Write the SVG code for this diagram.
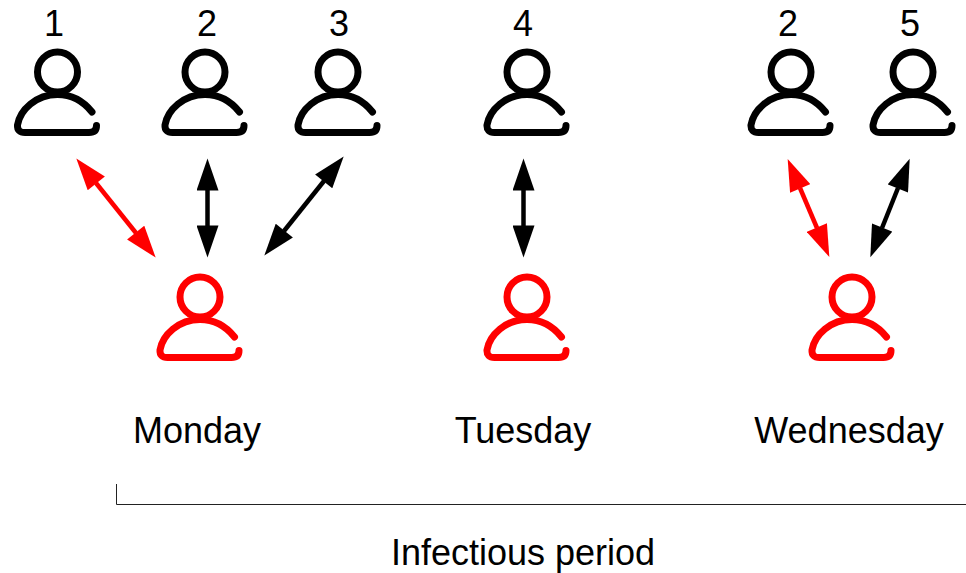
<svg xmlns="http://www.w3.org/2000/svg" width="966" height="573" viewBox="0 0 966 573">
<style>
text{font-family:"Liberation Sans",Arial,sans-serif;font-size:36px;fill:#000;text-anchor:middle}
.k{stroke:#000;fill:none}
.r{stroke:#f00;fill:none}
.p{stroke-width:7;stroke-linecap:round;stroke-linejoin:round}
.a{stroke-width:4.5;fill:none}
</style>
<defs>
<marker id="hk" markerUnits="userSpaceOnUse" markerWidth="34" markerHeight="22" viewBox="0 0 32 22" refX="0.5" refY="11" orient="auto-start-reverse"><path d="M0,0L32,11L0,22Z" fill="#000"/></marker>
<marker id="hr" markerUnits="userSpaceOnUse" markerWidth="34" markerHeight="22" viewBox="0 0 32 22" refX="0.5" refY="11" orient="auto-start-reverse"><path d="M0,0L32,11L0,22Z" fill="#f00"/></marker>
<g id="person" class="p">
<circle cx="57.5" cy="72" r="20"/>
<path d="M92,112C84,102 72,94.500 57.500,94.500C36,94.500 20,110 17.500,125Q17,132.500 25,132.500L89,132.500Q96.500,132.500 96.500,125.500"/>
</g>
</defs>
<g id="connectors">
<line class="a" stroke="#f00" x1="96" y1="183" x2="136" y2="233" marker-start="url(#hr)" marker-end="url(#hr)"/>
<line class="a" stroke="#000" x1="207.500" y1="190" x2="207.500" y2="226" marker-start="url(#hk)" marker-end="url(#hk)"/>
<line class="a" stroke="#000" x1="324" y1="181" x2="284" y2="231" marker-start="url(#hk)" marker-end="url(#hk)"/>
<line class="a" stroke="#000" x1="523.500" y1="190" x2="523.500" y2="226" marker-start="url(#hk)" marker-end="url(#hk)"/>
<line class="a" stroke="#f00" x1="800" y1="188" x2="817" y2="228" marker-start="url(#hr)" marker-end="url(#hr)"/>
<line class="a" stroke="#000" x1="898" y1="188" x2="882" y2="228" marker-start="url(#hk)" marker-end="url(#hk)"/>
</g>
<g id="n1"><use href="#person" class="k"/><text x="54" y="36">1</text></g>
<g id="n2"><use href="#person" x="147.500" class="k"/><text x="207" y="36">2</text></g>
<g id="n3"><use href="#person" x="280.500" class="k"/><text x="339" y="36">3</text></g>
<g id="n4"><use href="#person" x="469.500" class="k"/><text x="523" y="36">4</text></g>
<g id="n2b"><use href="#person" x="733.500" class="k"/><text x="788" y="36">2</text></g>
<g id="n5"><use href="#person" x="855.500" class="k"/><text x="910" y="36">5</text></g>
<g id="r1"><use href="#person" x="142.500" y="225" class="r"/></g>
<g id="r2"><use href="#person" x="469.500" y="225" class="r"/></g>
<g id="r3"><use href="#person" x="794.500" y="225" class="r"/></g>
<text x="197" y="443">Monday</text>
<text x="523" y="443">Tuesday</text>
<text x="849" y="443">Wednesday</text>
<path d="M116.500,484V504.500H966" fill="none" stroke="#222" stroke-width="1"/>
<text x="523" y="565">Infectious period</text>
</svg>
